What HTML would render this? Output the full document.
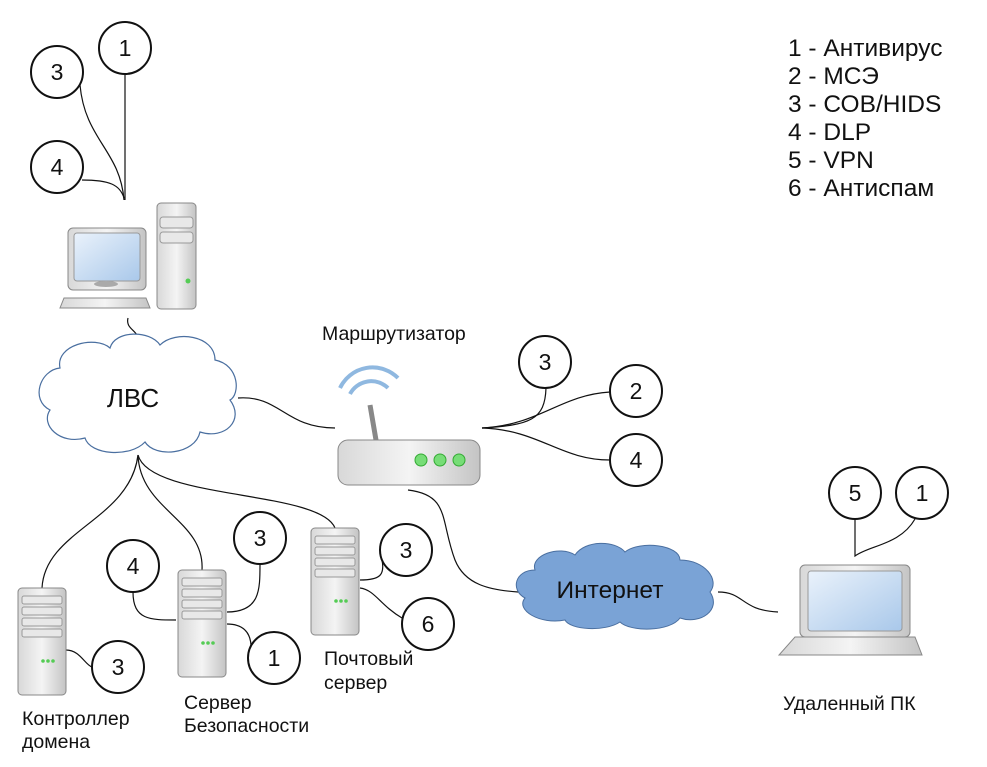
<!DOCTYPE html>
<html><head><meta charset="utf-8"><style>
body{margin:0;background:#fff}
svg{display:block}
text{font-family:"Liberation Sans",sans-serif;fill:#111}
</style></head><body>
<svg width="987" height="767" viewBox="0 0 987 767">
<defs>
<linearGradient id="g1" x1="0" y1="0" x2="1" y2="0"><stop offset="0" stop-color="#d8d8d8"/><stop offset=".5" stop-color="#f4f4f4"/><stop offset="1" stop-color="#c4c4c4"/></linearGradient>
<linearGradient id="scr" x1="0" y1="0" x2="1" y2="1"><stop offset="0" stop-color="#eaf2fb"/><stop offset="1" stop-color="#a9c8ea"/></linearGradient>
<g id="srv"><rect x="0" y="0" width="48" height="107" rx="4" fill="url(#g1)" stroke="#888"/><rect x="4" y="8" width="40" height="8" rx="2" fill="#e8e8e8" stroke="#999"/><rect x="4" y="19" width="40" height="8" rx="2" fill="#e8e8e8" stroke="#999"/><rect x="4" y="30" width="40" height="8" rx="2" fill="#e8e8e8" stroke="#999"/><rect x="4" y="41" width="40" height="8" rx="2" fill="#e8e8e8" stroke="#999"/><circle cx="25" cy="73" r="1.8" fill="#5c5"/><circle cx="30" cy="73" r="1.8" fill="#5c5"/><circle cx="35" cy="73" r="1.8" fill="#5c5"/></g>
</defs>
<g fill="none" stroke="#111" stroke-width="1.2">
<path d="M125 74 L125 200"/><path d="M80 85 C85 140 120 150 124 200"/><path d="M82 180 C110 180 120 185 124 198"/>
<path d="M128 318 C125 330 140 330 138 342"/>
<path d="M238 398 C280 395 285 428 335 428"/>
<path d="M482 428 C530 425 545 420 546 388"/><path d="M482 428 C540 425 560 395 610 392"/><path d="M482 428 C540 430 560 460 610 460"/>
<path d="M408 490 C450 495 440 520 455 560 C465 585 490 590 518 592"/>
<path d="M718 592 C745 592 740 610 778 612"/>
<path d="M855 519 L855 556 C870 545 900 545 915 519"/>
<path d="M138 455 C130 520 45 530 42 588"/><path d="M138 455 C140 510 205 520 202 570"/><path d="M138 455 C150 500 320 490 335 528"/>
<path d="M66 650 C80 650 85 665 92 667"/>
<path d="M133 592 C133 620 150 620 176 620"/><path d="M227 612 C260 612 260 590 260 564"/><path d="M227 624 C260 624 250 660 248 658"/>
<path d="M360 580 C380 580 385 575 382 560"/><path d="M360 588 C375 590 380 605 402 618"/>
</g>
<g fill="#fff" stroke="#111" stroke-width="2">
<circle cx="125" cy="48" r="26"/><circle cx="57" cy="72" r="26"/><circle cx="57" cy="167" r="26"/>
<circle cx="545" cy="362" r="26"/><circle cx="636" cy="391" r="26"/><circle cx="636" cy="460" r="26"/>
<circle cx="855" cy="493" r="26"/><circle cx="922" cy="493" r="26"/>
<circle cx="118" cy="667" r="26"/><circle cx="133" cy="566" r="26"/><circle cx="260" cy="538" r="26"/><circle cx="274" cy="658" r="26"/><circle cx="406" cy="550" r="26"/><circle cx="428" cy="624" r="26"/>
</g>
<g font-size="23" text-anchor="middle">
<text x="125" y="56">1</text><text x="57" y="80">3</text><text x="57" y="175">4</text>
<text x="545" y="370">3</text><text x="636" y="399">2</text><text x="636" y="468">4</text>
<text x="855" y="501">5</text><text x="922" y="501">1</text>
<text x="118" y="675">3</text><text x="133" y="574">4</text><text x="260" y="546">3</text><text x="274" y="666">1</text><text x="406" y="558">3</text><text x="428" y="632">6</text>
</g>
<!-- PC -->
<rect x="68" y="228" width="78" height="62" rx="5" fill="url(#g1)" stroke="#888"/>
<rect x="74" y="233" width="66" height="48" rx="3" fill="url(#scr)" stroke="#999"/>
<ellipse cx="106" cy="284" rx="12" ry="3" fill="#aaa"/>
<path d="M64 298 L146 298 L150 308 L60 308 Z" fill="url(#g1)" stroke="#888"/>
<rect x="157" y="203" width="39" height="106" rx="4" fill="url(#g1)" stroke="#888"/>
<rect x="160" y="217" width="33" height="11" rx="3" fill="#e8e8e8" stroke="#999"/><rect x="160" y="232" width="33" height="11" rx="3" fill="#e8e8e8" stroke="#999"/>
<circle cx="188" cy="281" r="2.5" fill="#5c5"/>
<!-- LVS cloud -->
<path d="M60 368 C55 345 95 335 110 348 C115 330 150 330 160 345 C175 330 215 335 215 360 C240 365 240 395 230 400 C245 420 225 440 200 432 C195 455 155 458 145 442 C130 458 90 455 85 438 C60 445 40 425 50 410 C30 400 40 370 60 368 Z" fill="#fff" stroke="#4a6fa0" stroke-width="1.2"/>
<text x="133" y="407" font-size="26" text-anchor="middle">ЛВС</text>
<!-- Router -->
<path d="M340 388 A36 36 0 0 1 398 378" fill="none" stroke="#8fb8e0" stroke-width="4"/>
<path d="M350 394 A24 24 0 0 1 388 388" fill="none" stroke="#8fb8e0" stroke-width="4"/>
<path d="M370 405 L376 440" stroke="#888" stroke-width="5"/>
<rect x="338" y="440" width="142" height="45" rx="10" fill="url(#g1)" stroke="#888"/>
<circle cx="421" cy="460" r="6" fill="#7d7" stroke="#3a3"/><circle cx="440" cy="460" r="6" fill="#7d7" stroke="#3a3"/><circle cx="459" cy="460" r="6" fill="#7d7" stroke="#3a3"/>
<text x="322" y="340" font-size="19.5">Маршрутизатор</text>
<!-- Internet cloud -->
<path d="M535 570 C530 555 560 545 575 555 C585 540 615 540 625 552 C640 540 680 545 680 560 C705 560 720 580 710 592 C722 610 700 625 680 618 C670 632 630 632 620 622 C605 632 570 630 565 620 C540 625 515 610 525 598 C510 590 515 570 535 570 Z" fill="#7aa3d6" stroke="#4a6fa0"/>
<text x="610" y="598" font-size="24.5" text-anchor="middle">Интернет</text>
<!-- Servers -->
<use href="#srv" x="18" y="588"/><use href="#srv" x="178" y="570"/><use href="#srv" x="311" y="528"/>
<!-- Laptop -->
<rect x="800" y="565" width="110" height="72" rx="5" fill="url(#g1)" stroke="#888"/>
<rect x="808" y="571" width="94" height="60" rx="3" fill="url(#scr)" stroke="#999"/>
<path d="M795 637 L915 637 L922 655 L779 655 Z" fill="url(#g1)" stroke="#888"/>
<g font-size="19.5">
<text x="324" y="665">Почтовый</text><text x="324" y="689">сервер</text>
<text x="22" y="725">Контроллер</text><text x="22" y="748">домена</text>
<text x="184" y="709">Сервер</text><text x="184" y="732">Безопасности</text>
<text x="783" y="710">Удаленный ПК</text>
</g>
<g font-size="24.5">
<text x="788" y="56">1 - Антивирус</text><text x="788" y="84">2 - МСЭ</text><text x="788" y="112">3 - СОВ/HIDS</text><text x="788" y="140">4 - DLP</text><text x="788" y="168">5 - VPN</text><text x="788" y="196">6 - Антиспам</text>
</g>
</svg>
</body></html>
